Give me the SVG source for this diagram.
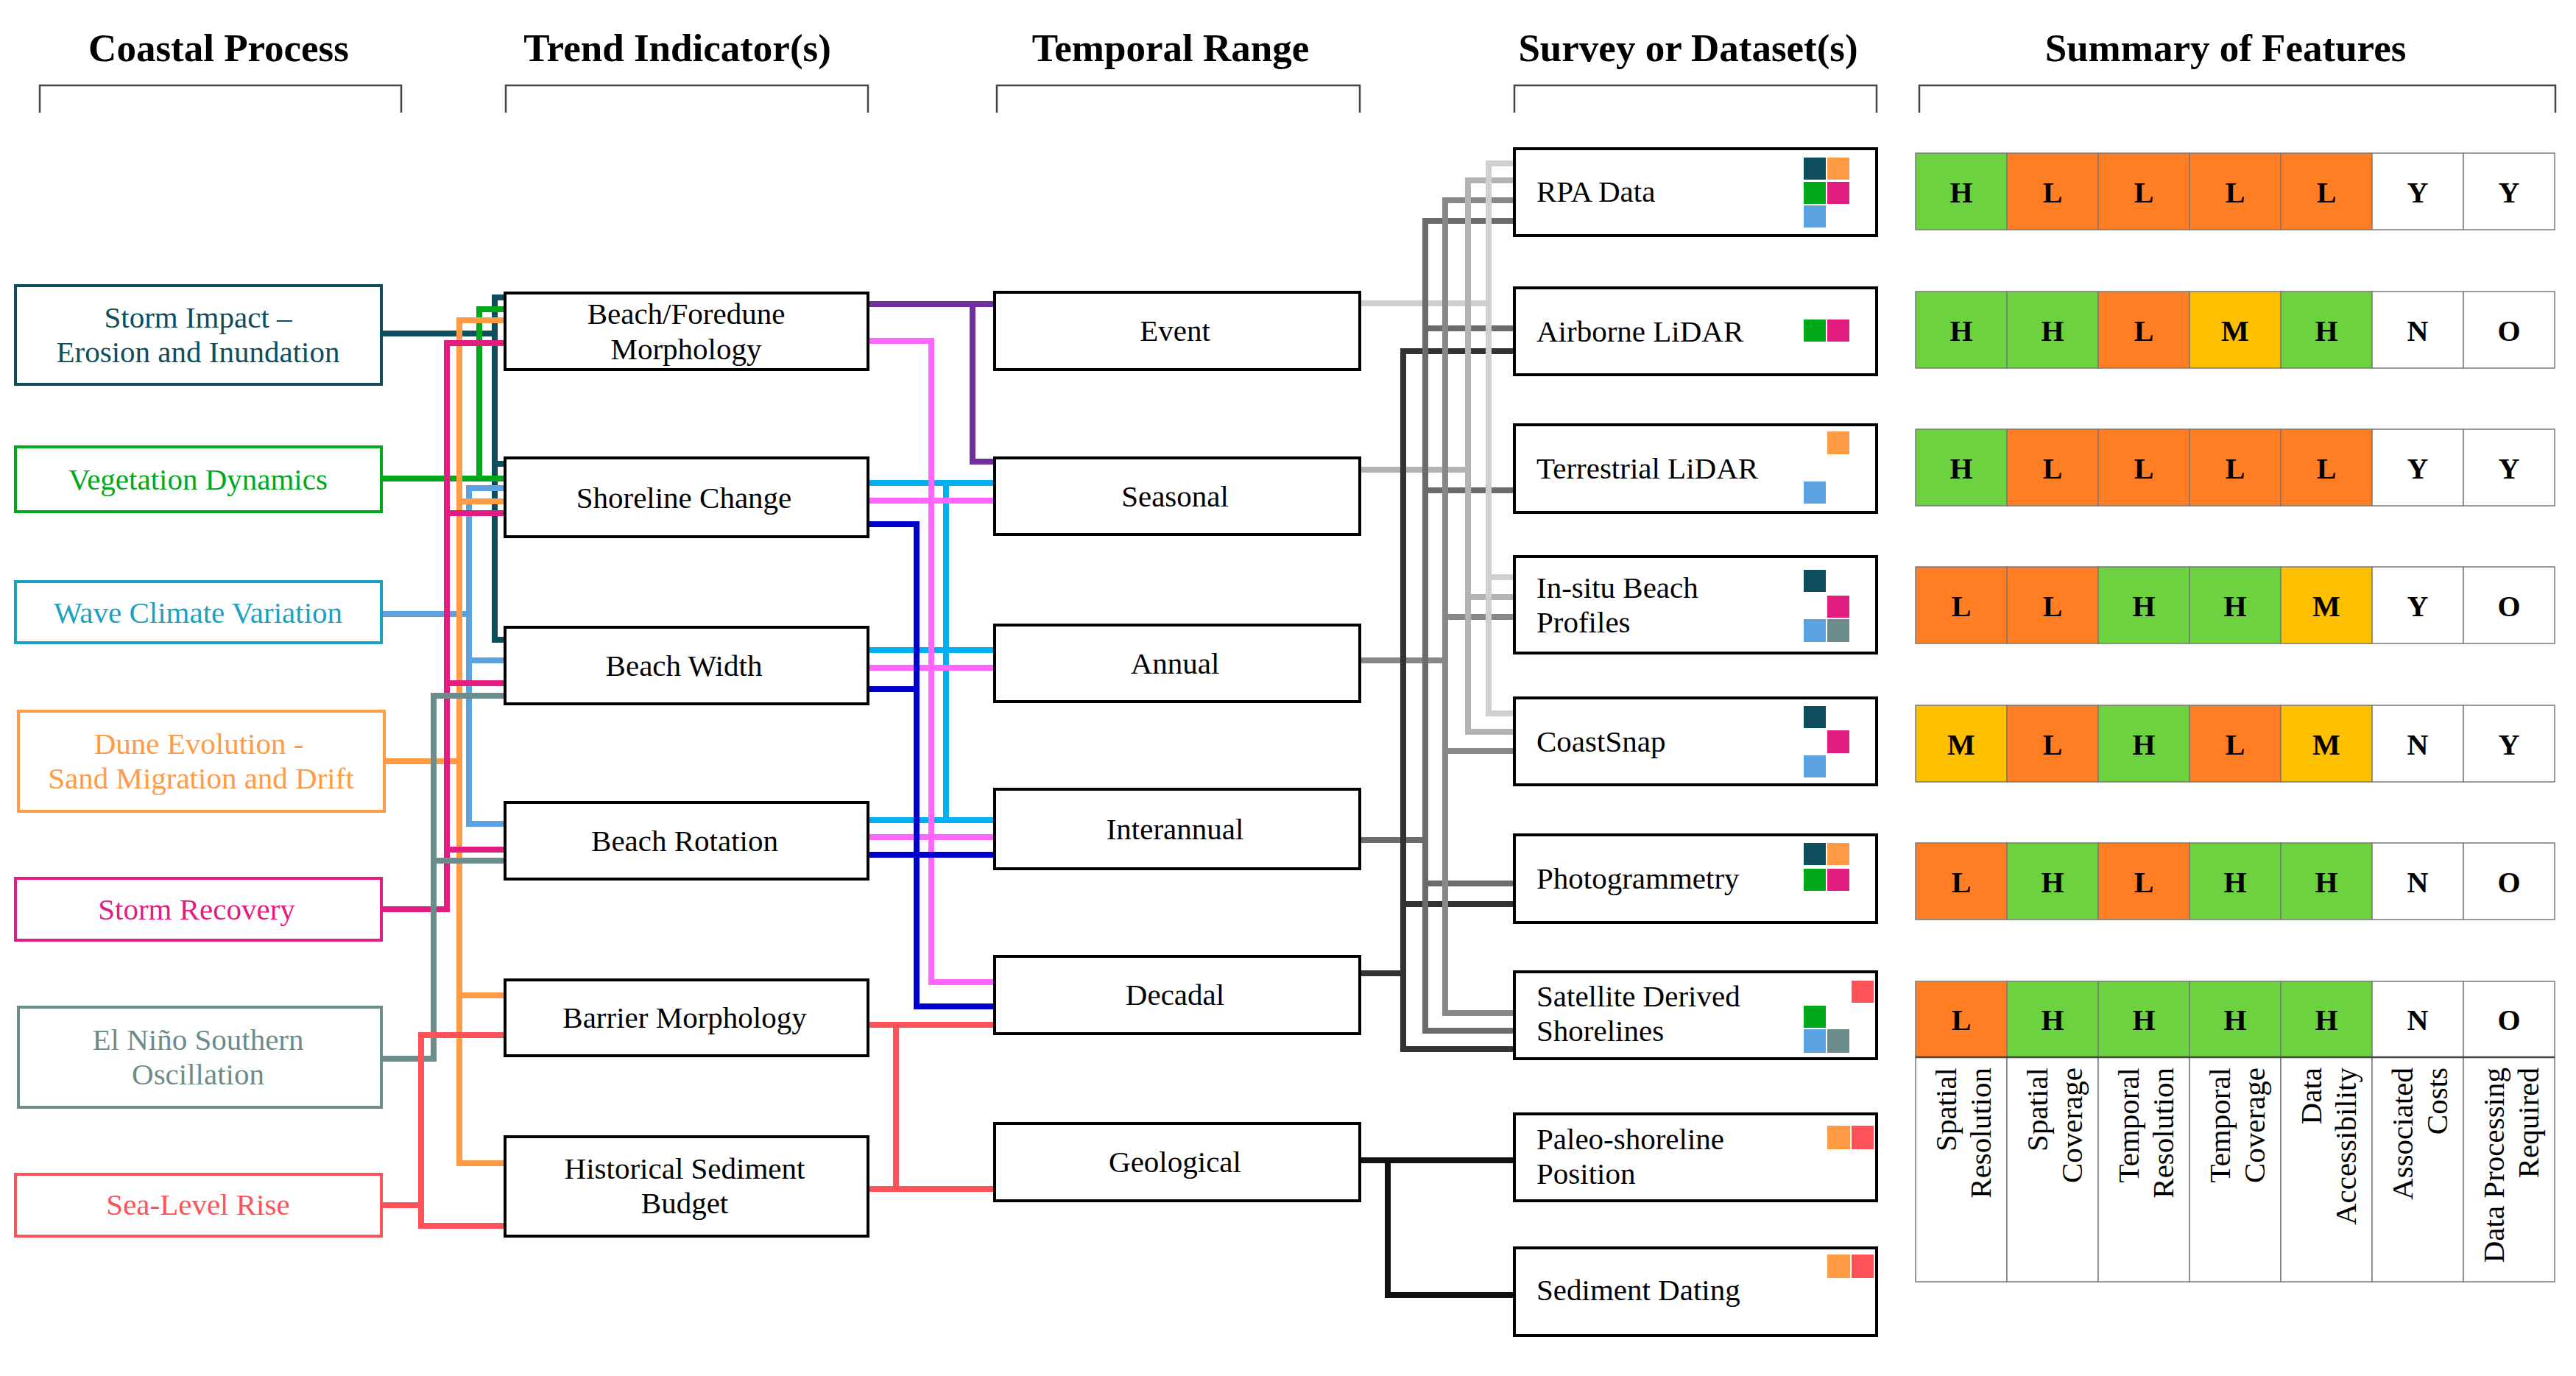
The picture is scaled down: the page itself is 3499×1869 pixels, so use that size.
<svg xmlns="http://www.w3.org/2000/svg" width="3499" height="1869" viewBox="0 0 3499 1869">
<style>
text{font-family:"Liberation Serif","Times New Roman",serif}
.hd{font-size:53px;font-weight:bold;text-anchor:middle;fill:#000}
.br{fill:none;stroke:#444;stroke-width:2.5}
.t{font-size:41px;text-anchor:middle;fill:#000}
.tl{font-size:41px;text-anchor:start;fill:#000}
.box{fill:#fff;stroke:#000;stroke-width:4}
.cbox{fill:#fff;stroke-width:4}
.c{fill:none;stroke-width:8;stroke-linejoin:miter;stroke-linecap:butt}
.cell{stroke:#7a7a7a;stroke-width:1.5}
.v{font-size:40px;font-weight:bold;text-anchor:middle;fill:#000}
.rh{font-size:41px;text-anchor:end;fill:#000}
.G{fill:#6CD23F}.O{fill:#FF7E24}.Y{fill:#FFC000}.W{fill:#fff}
</style>
<rect width="3499" height="1869" fill="#fff"/>

<!-- headers -->
<g id="headers">
<text class="hd" x="297" y="83">Coastal Process</text>
<text class="hd" x="920" y="83">Trend Indicator(s)</text>
<text class="hd" x="1590" y="83">Temporal Range</text>
<text class="hd" x="2293" y="83">Survey or Dataset(s)</text>
<text class="hd" x="3023" y="83">Summary of Features</text>
<path class="br" d="M54,153 V116 H545 V153"/>
<path class="br" d="M687,153 V116 H1179 V153"/>
<path class="br" d="M1354,153 V116 H1847 V153"/>
<path class="br" d="M2057,153 V116 H2549 V153"/>
<path class="br" d="M2607,153 V116 H3471 V153"/>
</g>

<!-- connectors -->
<g id="connectors">
 <!-- coastal -> trend -->
 <g id="c-left">
  <path class="c" stroke="#0E4D5B" d="M686,404 H672 V869 H686 M518,453 H672 M672,630 H686"/>
  <path class="c" stroke="#00A81C" d="M518,650 H686 M686,420 H651 V650"/>
  <path class="c" stroke="#5BA3E0" d="M686,663 H637 V1119 H686 M637,897 H686 M518,834 H637"/>
  <path class="c" stroke="#FF9A45" d="M686,435 H624 V1580 H686 M624,681 H686 M624,1352 H686 M522,1034 H624"/>
  <path class="c" stroke="#E21C80" d="M686,466 H607 V1235 H518 M607,697 H686 M607,928 H686 M607,1154 H686"/>
  <path class="c" stroke="#6C8B8B" d="M686,945 H589 V1438 H518 M589,1169 H686"/>
  <path class="c" stroke="#FF5258" d="M686,1406 H572 V1665 H686 M518,1637 H572"/>
 </g>
 <!-- trend -> temporal -->
 <g id="c-mid">
  <path class="c" stroke="#7030A0" d="M1179,413 H1351 M1321,413 V627 H1351"/>
  <path class="c" stroke="#00B0F0" d="M1179,656 H1351 M1179,883 H1351 M1179,1114 H1351 M1285,656 V1114"/>
  <path class="c" stroke="#FF66FF" d="M1179,463 H1265 V1334 H1351 M1179,680 H1351 M1179,907 H1351 M1179,1137 H1351"/>
  <path class="c" stroke="#0000CC" d="M1179,712 H1245 V1367 H1351 M1179,936 H1245 M1179,1161 H1351"/>
  <path class="c" stroke="#FF5258" d="M1179,1392 H1351 M1179,1615 H1351 M1217,1392 V1615"/>
 </g>
 <!-- temporal -> survey: horizontals first, verticals on top -->
 <g id="c-right">
  <path class="c" stroke="#CFCFCF" d="M1847,412 H2022 M2022,222 H2057 M2022,784 H2057 M2022,969 H2057"/>
  <path class="c" stroke="#B3B3B3" d="M1847,638 H1994 M1994,245 H2057 M1994,811 H2057 M1994,994 H2057"/>
  <path class="c" stroke="#888888" d="M1847,897 H1963 M1963,272 H2057 M1963,838 H2057 M1963,1020 H2057 M1963,1376 H2057"/>
  <path class="c" stroke="#6B6B6B" d="M1847,1141 H1936 M1936,300 H2057 M1936,446 H2057 M1936,666 H2057 M1936,1200 H2057 M1936,1400 H2057"/>
  <path class="c" stroke="#333333" d="M1847,1322 H1906 M1906,477 H2057 M1906,1228 H2057 M1906,1425 H2057"/>
  <path class="c" stroke="#333333" d="M1906,473 V1429"/>
  <path class="c" stroke="#6B6B6B" d="M1936,296 V1404"/>
  <path class="c" stroke="#888888" d="M1963,268 V1380"/>
  <path class="c" stroke="#B3B3B3" d="M1994,241 V998"/>
  <path class="c" stroke="#CFCFCF" d="M2022,218 V973"/>
  <path class="c" stroke="#111111" d="M1847,1576 H2057 M1885,1576 V1759 H2057"/>
 </g>
</g>

<!-- coastal process nodes -->
<g id="storm-impact"><rect class="cbox" stroke="#0E4D5B" x="21" y="388" width="497" height="134"/>
<text class="t" fill="#0E4D5B" style="fill:#0E4D5B" x="269" y="445">Storm Impact –</text><text class="t" style="fill:#0E4D5B" x="269" y="492">Erosion and Inundation</text></g>
<g id="vegetation-dynamics"><rect class="cbox" stroke="#00A81C" x="21" y="607" width="497" height="88"/>
<text class="t" style="fill:#00A81C" x="269" y="665">Vegetation Dynamics</text></g>
<g id="wave-climate"><rect class="cbox" stroke="#1AA1C1" x="21" y="790" width="497" height="83"/>
<text class="t" style="fill:#1AA1C1" x="269" y="846">Wave Climate Variation</text></g>
<g id="dune-evolution"><rect class="cbox" stroke="#FF9A45" x="25" y="966" width="497" height="136"/>
<text class="t" style="fill:#FF9A45" x="270" y="1024">Dune Evolution -</text><text class="t" style="fill:#FF9A45" x="273" y="1071">Sand Migration and Drift</text></g>
<g id="storm-recovery"><rect class="cbox" stroke="#E21C80" x="21" y="1193" width="497" height="84"/>
<text class="t" style="fill:#E21C80" x="267" y="1249">Storm Recovery</text></g>
<g id="el-nino"><rect class="cbox" stroke="#6C8B8B" x="25" y="1368" width="493" height="136"/>
<text class="t" style="fill:#6C8B8B" x="269" y="1426">El Niño Southern</text><text class="t" style="fill:#6C8B8B" x="269" y="1473">Oscillation</text></g>
<g id="sea-level-rise"><rect class="cbox" stroke="#FF5258" x="21" y="1595" width="497" height="84"/>
<text class="t" style="fill:#FF5258" x="269" y="1650">Sea-Level Rise</text></g>

<!-- trend indicator nodes -->
<g id="beach-foredune"><rect class="box" x="686" y="398" width="493" height="104"/>
<text class="t" x="932" y="440">Beach/Foredune</text><text class="t" x="932" y="488">Morphology</text></g>
<g id="shoreline-change"><rect class="box" x="686" y="622" width="493" height="107"/>
<text class="t" x="929" y="690">Shoreline Change</text></g>
<g id="beach-width"><rect class="box" x="686" y="852" width="493" height="104"/>
<text class="t" x="929" y="918">Beach Width</text></g>
<g id="beach-rotation"><rect class="box" x="686" y="1090" width="493" height="104"/>
<text class="t" x="930" y="1156">Beach Rotation</text></g>
<g id="barrier-morphology"><rect class="box" x="686" y="1331" width="493" height="103"/>
<text class="t" x="930" y="1396">Barrier Morphology</text></g>
<g id="historical-sediment"><rect class="box" x="686" y="1544" width="493" height="135"/>
<text class="t" x="930" y="1601">Historical Sediment</text><text class="t" x="930" y="1648">Budget</text></g>

<!-- temporal range nodes -->
<g id="event"><rect class="box" x="1351" y="397" width="496" height="105"/><text class="t" x="1596" y="463">Event</text></g>
<g id="seasonal"><rect class="box" x="1351" y="622" width="496" height="104"/><text class="t" x="1596" y="688">Seasonal</text></g>
<g id="annual"><rect class="box" x="1351" y="849" width="496" height="104"/><text class="t" x="1596" y="915">Annual</text></g>
<g id="interannual"><rect class="box" x="1351" y="1072" width="496" height="108"/><text class="t" x="1596" y="1140">Interannual</text></g>
<g id="decadal"><rect class="box" x="1351" y="1299" width="496" height="105"/><text class="t" x="1596" y="1365">Decadal</text></g>
<g id="geological"><rect class="box" x="1351" y="1526" width="496" height="105"/><text class="t" x="1596" y="1592">Geological</text></g>

<!-- survey nodes -->
<g id="rpa"><rect class="box" x="2057" y="202" width="492" height="118"/><text class="tl" x="2087" y="274">RPA Data</text>
<rect x="2450" y="214" width="30" height="30" fill="#0E4D5B"/><rect x="2482" y="214" width="30" height="30" fill="#FF9A45"/>
<rect x="2450" y="247" width="30" height="30" fill="#00A81C"/><rect x="2482" y="247" width="30" height="30" fill="#E21C80"/>
<rect x="2450" y="279" width="30" height="30" fill="#5BA3E0"/></g>
<g id="airborne-lidar"><rect class="box" x="2057" y="391" width="492" height="118"/><text class="tl" x="2087" y="464">Airborne LiDAR</text>
<rect x="2450" y="434" width="30" height="30" fill="#00A81C"/><rect x="2482" y="434" width="30" height="30" fill="#E21C80"/></g>
<g id="terrestrial-lidar"><rect class="box" x="2057" y="577" width="492" height="119"/><text class="tl" x="2087" y="650">Terrestrial LiDAR</text>
<rect x="2482" y="586" width="30" height="31" fill="#FF9A45"/><rect x="2450" y="654" width="30" height="30" fill="#5BA3E0"/></g>
<g id="in-situ"><rect class="box" x="2057" y="756" width="492" height="131"/><text class="tl" x="2087" y="812">In-situ Beach</text><text class="tl" x="2087" y="859">Profiles</text>
<rect x="2450" y="774" width="30" height="30" fill="#0E4D5B"/><rect x="2482" y="809" width="30" height="30" fill="#E21C80"/>
<rect x="2450" y="841" width="30" height="31" fill="#5BA3E0"/><rect x="2482" y="841" width="30" height="31" fill="#6C8B8B"/></g>
<g id="coastsnap"><rect class="box" x="2057" y="948" width="492" height="118"/><text class="tl" x="2087" y="1021">CoastSnap</text>
<rect x="2450" y="959" width="30" height="30" fill="#0E4D5B"/><rect x="2482" y="992" width="30" height="31" fill="#E21C80"/>
<rect x="2450" y="1026" width="30" height="30" fill="#5BA3E0"/></g>
<g id="photogrammetry"><rect class="box" x="2057" y="1134" width="492" height="119"/><text class="tl" x="2087" y="1207">Photogrammetry</text>
<rect x="2450" y="1145" width="30" height="30" fill="#0E4D5B"/><rect x="2482" y="1145" width="30" height="30" fill="#FF9A45"/>
<rect x="2450" y="1180" width="30" height="30" fill="#00A81C"/><rect x="2482" y="1180" width="30" height="30" fill="#E21C80"/></g>
<g id="satellite"><rect class="box" x="2057" y="1320" width="492" height="118"/><text class="tl" x="2087" y="1367">Satellite Derived</text><text class="tl" x="2087" y="1414">Shorelines</text>
<rect x="2515" y="1332" width="30" height="30" fill="#FF5258"/><rect x="2450" y="1366" width="30" height="30" fill="#00A81C"/>
<rect x="2450" y="1398" width="30" height="32" fill="#5BA3E0"/><rect x="2482" y="1398" width="30" height="32" fill="#6C8B8B"/></g>
<g id="paleo-shoreline"><rect class="box" x="2057" y="1513" width="492" height="118"/><text class="tl" x="2087" y="1561">Paleo-shoreline</text><text class="tl" x="2087" y="1608">Position</text>
<rect x="2482" y="1529" width="31" height="32" fill="#FF9A45"/><rect x="2515" y="1529" width="30" height="32" fill="#FF5258"/></g>
<g id="sediment-dating"><rect class="box" x="2057" y="1695" width="492" height="119"/><text class="tl" x="2087" y="1766">Sediment Dating</text>
<rect x="2482" y="1704" width="31" height="32" fill="#FF9A45"/><rect x="2515" y="1704" width="30" height="32" fill="#FF5258"/></g>

<!-- summary table -->
<g id="summary-table">
 <g id="row1">
  <rect class="cell G" x="2602" y="208" width="124" height="104"/><rect class="cell O" x="2726" y="208" width="124" height="104"/><rect class="cell O" x="2850" y="208" width="124" height="104"/><rect class="cell O" x="2974" y="208" width="124" height="104"/><rect class="cell O" x="3098" y="208" width="124" height="104"/><rect class="cell W" x="3222" y="208" width="124" height="104"/><rect class="cell W" x="3346" y="208" width="124" height="104"/>
  <text class="v" x="2664" y="275">H</text><text class="v" x="2788" y="275">L</text><text class="v" x="2912" y="275">L</text><text class="v" x="3036" y="275">L</text><text class="v" x="3160" y="275">L</text><text class="v" x="3284" y="275">Y</text><text class="v" x="3408" y="275">Y</text>
 </g>
 <g id="row2">
  <rect class="cell G" x="2602" y="396" width="124" height="104"/><rect class="cell G" x="2726" y="396" width="124" height="104"/><rect class="cell O" x="2850" y="396" width="124" height="104"/><rect class="cell Y" x="2974" y="396" width="124" height="104"/><rect class="cell G" x="3098" y="396" width="124" height="104"/><rect class="cell W" x="3222" y="396" width="124" height="104"/><rect class="cell W" x="3346" y="396" width="124" height="104"/>
  <text class="v" x="2664" y="463">H</text><text class="v" x="2788" y="463">H</text><text class="v" x="2912" y="463">L</text><text class="v" x="3036" y="463">M</text><text class="v" x="3160" y="463">H</text><text class="v" x="3284" y="463">N</text><text class="v" x="3408" y="463">O</text>
 </g>
 <g id="row3">
  <rect class="cell G" x="2602" y="583" width="124" height="104"/><rect class="cell O" x="2726" y="583" width="124" height="104"/><rect class="cell O" x="2850" y="583" width="124" height="104"/><rect class="cell O" x="2974" y="583" width="124" height="104"/><rect class="cell O" x="3098" y="583" width="124" height="104"/><rect class="cell W" x="3222" y="583" width="124" height="104"/><rect class="cell W" x="3346" y="583" width="124" height="104"/>
  <text class="v" x="2664" y="650">H</text><text class="v" x="2788" y="650">L</text><text class="v" x="2912" y="650">L</text><text class="v" x="3036" y="650">L</text><text class="v" x="3160" y="650">L</text><text class="v" x="3284" y="650">Y</text><text class="v" x="3408" y="650">Y</text>
 </g>
 <g id="row4">
  <rect class="cell O" x="2602" y="770" width="124" height="104"/><rect class="cell O" x="2726" y="770" width="124" height="104"/><rect class="cell G" x="2850" y="770" width="124" height="104"/><rect class="cell G" x="2974" y="770" width="124" height="104"/><rect class="cell Y" x="3098" y="770" width="124" height="104"/><rect class="cell W" x="3222" y="770" width="124" height="104"/><rect class="cell W" x="3346" y="770" width="124" height="104"/>
  <text class="v" x="2664" y="837">L</text><text class="v" x="2788" y="837">L</text><text class="v" x="2912" y="837">H</text><text class="v" x="3036" y="837">H</text><text class="v" x="3160" y="837">M</text><text class="v" x="3284" y="837">Y</text><text class="v" x="3408" y="837">O</text>
 </g>
 <g id="row5">
  <rect class="cell Y" x="2602" y="958" width="124" height="104"/><rect class="cell O" x="2726" y="958" width="124" height="104"/><rect class="cell G" x="2850" y="958" width="124" height="104"/><rect class="cell O" x="2974" y="958" width="124" height="104"/><rect class="cell Y" x="3098" y="958" width="124" height="104"/><rect class="cell W" x="3222" y="958" width="124" height="104"/><rect class="cell W" x="3346" y="958" width="124" height="104"/>
  <text class="v" x="2664" y="1025">M</text><text class="v" x="2788" y="1025">L</text><text class="v" x="2912" y="1025">H</text><text class="v" x="3036" y="1025">L</text><text class="v" x="3160" y="1025">M</text><text class="v" x="3284" y="1025">N</text><text class="v" x="3408" y="1025">Y</text>
 </g>
 <g id="row6">
  <rect class="cell O" x="2602" y="1145" width="124" height="104"/><rect class="cell G" x="2726" y="1145" width="124" height="104"/><rect class="cell O" x="2850" y="1145" width="124" height="104"/><rect class="cell G" x="2974" y="1145" width="124" height="104"/><rect class="cell G" x="3098" y="1145" width="124" height="104"/><rect class="cell W" x="3222" y="1145" width="124" height="104"/><rect class="cell W" x="3346" y="1145" width="124" height="104"/>
  <text class="v" x="2664" y="1212">L</text><text class="v" x="2788" y="1212">H</text><text class="v" x="2912" y="1212">L</text><text class="v" x="3036" y="1212">H</text><text class="v" x="3160" y="1212">H</text><text class="v" x="3284" y="1212">N</text><text class="v" x="3408" y="1212">O</text>
 </g>
 <g id="row7">
  <rect class="cell O" x="2602" y="1333" width="124" height="103"/><rect class="cell G" x="2726" y="1333" width="124" height="103"/><rect class="cell G" x="2850" y="1333" width="124" height="103"/><rect class="cell G" x="2974" y="1333" width="124" height="103"/><rect class="cell G" x="3098" y="1333" width="124" height="103"/><rect class="cell W" x="3222" y="1333" width="124" height="103"/><rect class="cell W" x="3346" y="1333" width="124" height="103"/>
  <text class="v" x="2664" y="1399">L</text><text class="v" x="2788" y="1399">H</text><text class="v" x="2912" y="1399">H</text><text class="v" x="3036" y="1399">H</text><text class="v" x="3160" y="1399">H</text><text class="v" x="3284" y="1399">N</text><text class="v" x="3408" y="1399">O</text>
 </g>
 <g id="column-headers">
  <rect class="cell W" x="2602" y="1436" width="124" height="305"/><rect class="cell W" x="2726" y="1436" width="124" height="305"/><rect class="cell W" x="2850" y="1436" width="124" height="305"/><rect class="cell W" x="2974" y="1436" width="124" height="305"/><rect class="cell W" x="3098" y="1436" width="124" height="305"/><rect class="cell W" x="3222" y="1436" width="124" height="305"/><rect class="cell W" x="3346" y="1436" width="124" height="305"/>
  <line x1="2602" y1="1436" x2="3470" y2="1436" stroke="#444" stroke-width="2.5"/>
  <text class="rh" transform="translate(2657,1450) rotate(-90)">Spatial</text>
  <text class="rh" transform="translate(2704,1450) rotate(-90)">Resolution</text>
  <text class="rh" transform="translate(2781,1450) rotate(-90)">Spatial</text>
  <text class="rh" transform="translate(2828,1450) rotate(-90)">Coverage</text>
  <text class="rh" transform="translate(2905,1450) rotate(-90)">Temporal</text>
  <text class="rh" transform="translate(2952,1450) rotate(-90)">Resolution</text>
  <text class="rh" transform="translate(3029,1450) rotate(-90)">Temporal</text>
  <text class="rh" transform="translate(3076,1450) rotate(-90)">Coverage</text>
  <text class="rh" transform="translate(3153,1450) rotate(-90)">Data</text>
  <text class="rh" transform="translate(3200,1450) rotate(-90)">Accessibility</text>
  <text class="rh" transform="translate(3277,1450) rotate(-90)">Associated</text>
  <text class="rh" transform="translate(3324,1450) rotate(-90)">Costs</text>
  <text class="rh" transform="translate(3401,1450) rotate(-90)">Data Processing</text>
  <text class="rh" transform="translate(3448,1450) rotate(-90)">Required</text>
 </g>
</g>
</svg>
